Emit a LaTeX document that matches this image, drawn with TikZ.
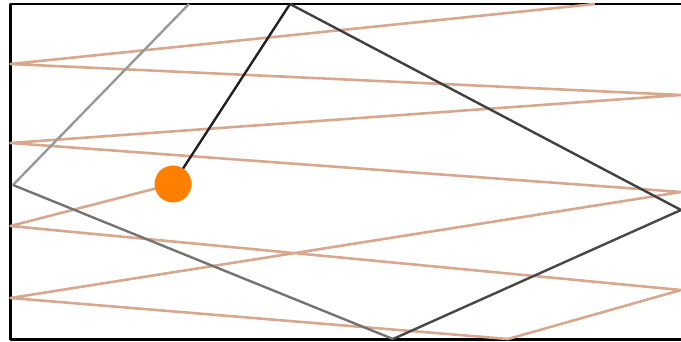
\documentclass[tikz,border=0pt]{standalone}
\usepackage{tikz}
\usetikzlibrary{calc}
\definecolor{bounce}{RGB}{216,168,142}
\definecolor{ballc}{RGB}{255,127,0}
\begin{document}
\begin{tikzpicture}[x=1pt,y=-1pt,line join=round]
\tikzset{ray/.style={draw=bounce,line width=2.6pt},trail/.style={line width=2.4pt}}
\useasboundingbox (0,0) rectangle (681,342);
\draw[line width=2.4pt] (10.5,4) rectangle (684,339.5);
% reflected path
\coordinate (b0) at (173,184);\coordinate (b1) at (10.5,226);\coordinate (b2) at (681,290);
\coordinate (b3) at (508,339);\coordinate (b4) at (10.5,298);\coordinate (b5) at (681,192);
\coordinate (b6) at (10.5,143);\coordinate (b7) at (681,95);\coordinate (b8) at (10.5,64);
\coordinate (b9) at (595,4);
\draw[ray] (b0)--(b1)--(b2)--(b3)--(b4)--(b5)--(b6)--(b7)--(b8)--(b9);
% trail
\coordinate (t0) at (189,4);\coordinate (t1) at (13,185);\coordinate (t2) at (393,339);
\coordinate (t3) at (681,210);\coordinate (t4) at (290,4);
\draw[trail,color=black!40] (t0)--(t1);
\draw[trail,color=black!55] (t1)--(t2);
\draw[trail,color=black!72] (t2)--(t3);
\draw[trail,color=black!75] (t3)--(t4);
\draw[trail,color=black!87] (t4)--(b0);
\node[circle,fill=ballc,minimum size=37pt,inner sep=0pt] (ball) at (b0) {};
\end{tikzpicture}
\end{document}
